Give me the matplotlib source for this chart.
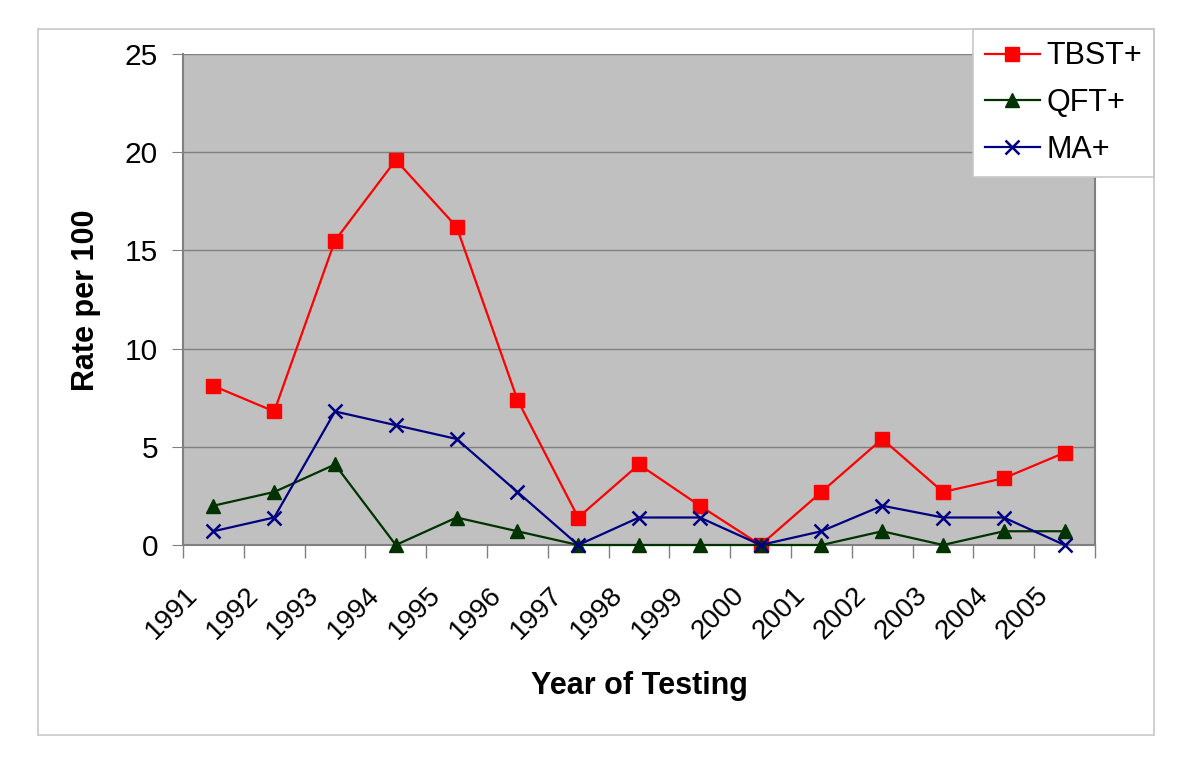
import numpy as np
import matplotlib
matplotlib.use("Agg")
import matplotlib.pyplot as plt
import matplotlib.transforms as mtransforms
from matplotlib.patches import Rectangle

plt.rcParams['font.family'] = ['Liberation Sans', 'DejaVu Sans']

years = ["1991", "1992", "1993", "1994", "1995", "1996", "1997", "1998",
         "1999", "2000", "2001", "2002", "2003", "2004", "2005"]
tbst = [8.1, 6.8, 15.5, 19.6, 16.2, 7.4, 1.4, 4.1, 2.0, 0.0, 2.7, 5.4, 2.7, 3.4, 4.7]
qft = [2.0, 2.7, 4.1, 0.0, 1.4, 0.7, 0.0, 0.0, 0.0, 0.0, 0.0, 0.7, 0.0, 0.7, 0.7]
ma = [0.7, 1.4, 6.8, 6.1, 5.4, 2.7, 0.0, 1.4, 1.4, 0.0, 0.7, 2.0, 1.4, 1.4, 0.0]

W, H = 1200, 776
fig = plt.figure(figsize=(W / 100, H / 100), dpi=100)

# outer chart border
fig.patches.append(Rectangle((38 / W, 1 - 735 / H), (1154 - 38) / W, (735 - 29) / H,
                             transform=fig.transFigure, fill=False,
                             edgecolor='#c8c8c8', linewidth=1.2))

ax = fig.add_axes([183 / W, 1 - 545 / H, (1095 - 183) / W, (545 - 54) / H])
ax.set_facecolor('#c0c0c0')
x = np.arange(len(years))

ax.plot(x, tbst, color='#ff0000', marker='s', markersize=10, linewidth=1.6,
        label='TBST+', zorder=3, clip_on=False)
ax.plot(x, qft, color='#003300', marker='^', markersize=10, linewidth=1.6,
        label='QFT+', zorder=3, clip_on=False)
ax.plot(x, ma, color='#000080', marker='x', markersize=10, markeredgewidth=1.8,
        linewidth=1.6, label='MA+', zorder=3, clip_on=False)

ax.set_xlim(-0.5, len(years) - 0.5)
ax.set_ylim(0, 25)
ax.set_yticks([0, 5, 10, 15, 20, 25])
ax.grid(axis='y', color='#808080', linewidth=1.0)
ax.set_axisbelow(True)
for s in ax.spines.values():
    s.set_color('#808080')
    s.set_linewidth(1.5)
ax.spines['top'].set_visible(False)

ax.tick_params(axis='y', labelsize=21.5, length=8, color='#808080', pad=10)

# category axis: ticks between categories, rotated labels near centres
ax.set_xticks(np.arange(-0.5, len(years)))
ax.set_xticklabels([])
ax.tick_params(axis='x', length=9, color='#808080', width=1)
offset = mtransforms.ScaledTranslation(-0.29, -0.37, fig.dpi_scale_trans)
for xi, yr in zip(x, years):
    ax.text(xi, 0, yr, transform=ax.get_xaxis_transform() + offset,
            fontsize=20, rotation=45, ha='right', va='top',
            rotation_mode='anchor')

fig.text(639 / W, 1 - 686 / H, 'Year of Testing', ha='center', va='center',
         fontsize=22, fontweight='bold')
fig.text(86 / W, 1 - 300 / H, 'Rate per 100', ha='center', va='center',
         rotation=90, fontsize=22, fontweight='bold')

leg = ax.legend(loc='upper right', bbox_to_anchor=(1154 / W, 1 - 29 / H),
                bbox_transform=fig.transFigure, fontsize=22, frameon=True,
                fancybox=False, framealpha=1, edgecolor='#c8c8c8',
                handlelength=1.8, handletextpad=0.2, borderpad=0.4,
                labelspacing=0.55, borderaxespad=0)
leg.get_frame().set_linewidth(1.2)

fig.savefig('out.png', dpi=100)
